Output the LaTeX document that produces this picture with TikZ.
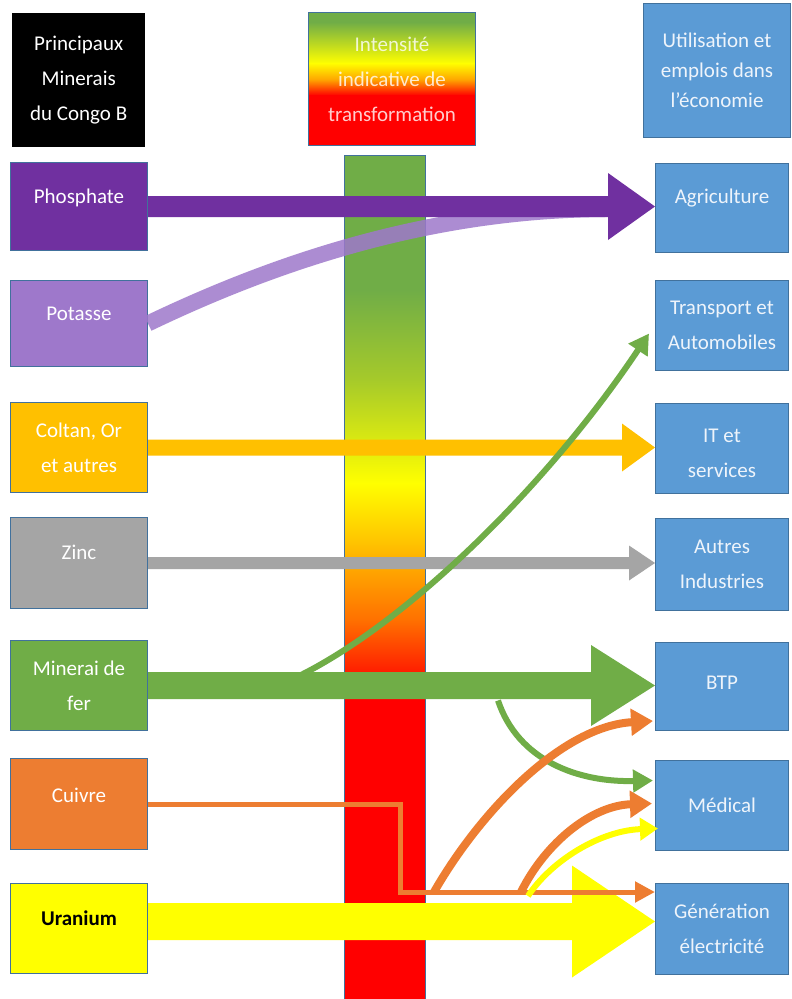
\documentclass[tikz,border=0pt]{standalone}
\usepackage{fontspec}
\setmainfont{Carlito}
\usetikzlibrary{arrows.meta,calc}
\definecolor{cphos}{HTML}{7030A0}
\definecolor{cpota}{HTML}{9E78CB}
\definecolor{ccolt}{HTML}{FFC000}
\definecolor{czinc}{HTML}{A5A5A5}
\definecolor{cfer}{HTML}{70AD47}
\definecolor{ccuiv}{HTML}{ED7D31}
\definecolor{curan}{HTML}{FFFF00}
\definecolor{cbleu}{HTML}{5B9BD5}
\definecolor{cbord}{HTML}{41719C}
\definecolor{cpale}{HTML}{EEF4FB}
\definecolor{cygreen}{HTML}{A6CA2A}
\definecolor{corred}{HTML}{FF7000}
\definecolor{corhdr}{HTML}{FFA000}
\newcommand\blockarrow[6]{%
  \fill[#1] ($(#2)+(0,-#4)$) -- ($(#3)+(-#6,-#4)$) -- ($(#3)+(-#6,-#5)$) -- (#3)
    -- ($(#3)+(-#6,#5)$) -- ($(#3)+(-#6,#4)$) -- ($(#2)+(0,#4)$) -- cycle;}
\begin{document}
\begin{tikzpicture}[x=1pt,y=-1pt,
  box/.style={draw=cbord, line width=1pt, anchor=north west, inner sep=0pt},
  lbox/.style={box, minimum width=137pt},
  rbox/.style={box, fill=cbleu, minimum width=133pt},
  txt/.style={text=white, font=\fontsize{21}{35}\selectfont, align=center},
  btxt/.style={txt, text=cpale},
  gline/.style={draw=cfer, line width=6pt, -{Triangle[length=20pt,width=22pt]}},
  oline/.style={draw=ccuiv, line width=8pt, -{Triangle[length=22pt,width=26pt]}},
  yline/.style={draw=curan, line width=6pt, -{Triangle[length=18pt,width=22pt]}},
  cline/.style={draw=ccuiv, line width=5pt, -{Triangle[length=20pt,width=20pt]}}
]
\useasboundingbox (0,0) rectangle (792,999);
\fill[white] (0,0) rectangle (792,999);

% ---- central intensity bar
\fill[cfer] (344,155) rectangle (425,290.5);
\shade[top color=cfer, bottom color=cygreen] (344,290) rectangle (425,380.5);
\shade[top color=cygreen, bottom color=curan] (344,380) rectangle (425,483.5);
\shade[top color=curan, bottom color=ccolt] (344,483) rectangle (425,545.5);
\shade[top color=ccolt, bottom color=corred] (344,545) rectangle (425,620.5);
\shade[top color=corred, bottom color=red] (344,620) rectangle (425,690.5);
\fill[red] (344,690) rectangle (425,999);
\node[draw=cbord, line width=0.8pt, minimum width=81pt, minimum height=850pt, anchor=north west, inner sep=0pt] (bar) at (344,155) {};

% ---- header gradient
\fill[cfer] (308,12) rectangle (475,22.5);
\shade[top color=cfer, bottom color=curan] (308,22) rectangle (475,63.5);
\shade[top color=curan, bottom color=corhdr] (308,63) rectangle (475,80.5);
\shade[top color=corhdr, bottom color=red] (308,80) rectangle (475,95.5);
\fill[red] (308,95) rectangle (475,145);
\node[box, minimum width=167pt, minimum height=133pt, txt, text opacity=0.8] (ihdr) at (308,12)
  {Intensité\\indicative de\\transformation};

% ---- left headers and boxes
\node[anchor=north west, inner sep=0pt, fill=black, minimum width=133pt, minimum height=134pt, txt] (mhdr) at (12,13)
  {Principaux\\Minerais\\du Congo B};
\node[lbox, fill=cphos, minimum height=88pt, label={[txt,yshift=9pt]center:Phosphate}] (phos) at (10,162) {};
\node[lbox, fill=cpota, minimum height=86pt, label={[txt,yshift=10pt]center:Potasse}] (pota) at (10,280) {};
\node[lbox, fill=ccolt, minimum height=90pt, txt] (colt) at (10,402) {Coltan, Or\\et autres};
\node[lbox, fill=czinc, minimum height=91pt, label={[txt,yshift=11pt]center:Zinc}] (zinc) at (10,517) {};
\node[lbox, fill=cfer, minimum height=90pt, txt] (fer) at (10,640) {Minerai de\\fer};
\node[lbox, fill=ccuiv, minimum height=91pt, label={[txt,yshift=9pt]center:Cuivre}] (cuiv) at (10,758) {};
\node[lbox, fill=curan, minimum height=90pt, label={[txt,text=black,font=\fontsize{21}{35}\selectfont\bfseries,yshift=10pt]center:Uranium}] (uran) at (10,883) {};

% ---- right headers and boxes
\node[rbox, minimum width=147pt, minimum height=134pt, btxt, font=\fontsize{21}{30}\selectfont] (uhdr) at (643,3)
  {Utilisation et\\emplois dans\\l’économie};
\node[rbox, minimum height=89pt, label={[btxt,yshift=10pt]center:Agriculture}] (agri) at (655,163) {};
\node[rbox, minimum height=90pt, btxt] (trans) at (655,280) {Transport et\\Automobiles};
\node[rbox, minimum height=90pt, label={[btxt,yshift=-5pt]center:{IT et\\services}}] (it) at (655,403) {};
\node[rbox, minimum height=92pt, btxt] (autres) at (655,518) {Autres\\Industries};
\node[rbox, minimum height=88pt, label={[btxt,yshift=4pt]center:BTP}] (btp) at (655,642) {};
\node[rbox, minimum height=90pt, btxt] (med) at (655,760) {Médical};
\node[rbox, minimum height=91pt, btxt] (gen) at (655,883) {Génération\\électricité};

% ---- coordinates for connector ends
\coordinate (potend) at ($(agri.west)+(-50,1)$);
\coordinate (uA) at ($(uran.east)+(0,-7)$);
\coordinate (fer1) at ($(fer.east)+(152,-10)$);
\coordinate (ft) at ($(trans.west)+(-6,8)$);
\coordinate (fer2) at ($(fer.east)+(350,15)$);
\coordinate (fm) at ($(med.west)+(-2,-25)$);
\coordinate (cb) at ($(cuiv.east)+(252,0)$);
\coordinate (cend) at ($(gen.north west)+(0,9)$);
\coordinate (o1) at ($(cend)+(-221,0)$);
\coordinate (ob) at ($(btp.south west)+(-2,-10)$);
\coordinate (o2) at ($(cend)+(-134,0)$);
\coordinate (om) at ($(med.west)+(-3,-2)$);
\coordinate (y1) at ($(cend)+(-127,4)$);
\coordinate (ym) at ($(med.west)+(3,23)$);

% ---- connectors
\draw[cpota, line width=16pt, opacity=0.85] (pota.east) .. controls +(152,-73) and +(-155,1) .. (potend);
\blockarrow{cphos}{phos.east}{phos.east -| agri.west}{10.5}{33.5}{47}
\blockarrow{ccolt}{colt.east}{colt.east -| it.west}{8}{24}{33}
\blockarrow{czinc}{zinc.east}{zinc.east -| autres.west}{6}{17.5}{26}
\draw[gline] (fer1) .. controls +(110,-55) and +(-100,150) .. (ft);
\blockarrow{cfer}{fer.east}{fer.east -| btp.west}{13.5}{40.5}{64}
\draw[gline] (fer2) .. controls +(20,60) and +(-75,2) .. (fm);
\blockarrow{curan}{uA}{uA -| gen.west}{18.5}{56}{83}
\draw[cline] (cuiv.east) -- (cb) |- (cend);
\draw[oline] (o1) .. controls +(47,-82) and +(-90,5) .. (ob);
\draw[oline] (o2) .. controls +(25,-50) and +(-60,2) .. (om);
\draw[yline] (y1) .. controls +(23,-35) and +(-58,2) .. (ym);
\end{tikzpicture}
\end{document}
